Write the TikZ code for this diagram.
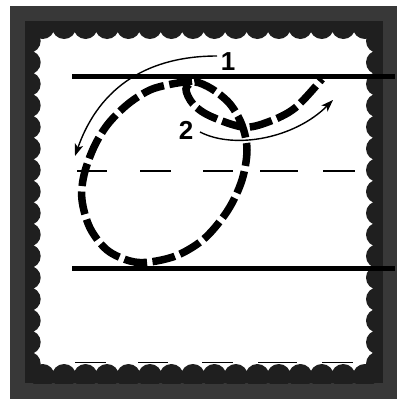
\documentclass[tikz,border=0pt]{standalone}
\usepackage{fontspec}
\setmainfont{Liberation Sans}
\usetikzlibrary{arrows.meta}
\definecolor{framegray}{RGB}{56,56,56}
\definecolor{framedark}{RGB}{31,31,31}
\begin{document}
\begin{tikzpicture}[x=1pt,y=-1pt,
  guide/.style={line width=5pt},
  thinguide/.style={line width=1.3pt},
  letterstroke/.style={line width=7.5pt, dash pattern=on 23pt off 5.5pt},
  motion/.style={line width=1.4pt,-{Stealth[length=12pt,width=8.5pt,inset=3pt]}},
  lbl/.style={font=\bfseries\fontsize{26}{26}\selectfont, inner sep=0pt}]
\useasboundingbox (0,0) rectangle (401,402);
\fill[white] (0,0) rectangle (401,402);
\fill[framegray] (10,6) rectangle (397,399);
\fill[framedark] (25,21) rectangle (382.7,383);
\fill[white] (32,30) rectangle (374.5,372.5);
\begin{scope}
\clip (25,21) rectangle (382.7,383);
\foreach \k in {0,...,15} {
  \fill[framedark] ({42.56+21.48*\k},27) circle[radius=12pt];
  \fill[framedark] ({42.56+21.48*\k},376) circle[radius=12pt];
  \fill[framedark] (28.7,{40.94+21.52*\k}) circle[radius=12pt];
  \fill[framedark] (378,{40.94+21.52*\k}) circle[radius=12pt];
}
\end{scope}
% bottom dashed guide
\foreach \a/\b in {75/106,138/168,202/233,258/297,322/353}
  \draw[thinguide] (\a,362.5) -- (\b,362.5);
% solid guides
\draw[guide] (72,76) -- (395,76);
\draw[guide] (72,268.3) -- (395,268.3);
% middle dashed guide
\foreach \a/\b in {77/107,140/171,203/233,260/298,323/355}
  \draw[thinguide] (\a,171) -- (\b,171);
% letter
\draw[letterstroke] plot[smooth, tension=0.55] coordinates {
  (192,81) (172,84) (150,90) (128,104) (108,124) (94,147) (84,175) (82,200)
  (90,228) (107,250) (130,261) (150,262) (178,255) (205,238) (228,210)
  (242,180) (247,150) (242,125) (230,104) (212,89) (195,82) (186,89)
  (193,104) (210,116) (243,127) (268,122) (295,108) (322,79)};
% labels and motion arrows
\node[lbl] (lab1) at (228,62) {1};
\node[lbl] (lab2) at (186,130) {2};
\coordinate (a1s) at (217,56);
\coordinate (a1e) at (75,156);
\coordinate (a2s) at (200,132);
\coordinate (a2e) at (333,100);
\draw[motion] (a1s) .. controls (150,56) and (100,85) .. (a1e);
\draw[motion] (a2s) .. controls (235,150) and (295,138) .. (a2e);
\end{tikzpicture}
\end{document}
